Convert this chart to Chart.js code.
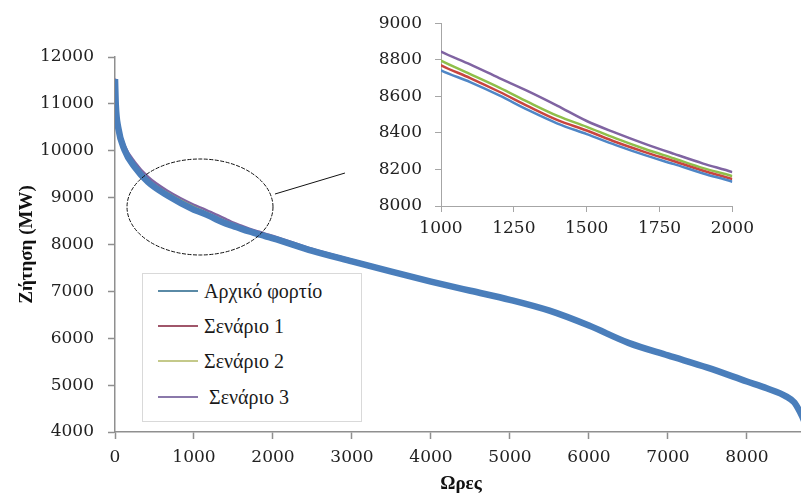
<!DOCTYPE html>
<html>
<head>
<meta charset="utf-8">
<script src="https://cdn.jsdelivr.net/npm/chart.js@4/dist/chart.umd.min.js"></script>
<style>
  html, body { margin: 0; padding: 0; background: #fff; overflow: hidden; }
  #wrap { position: relative; width: 801px; height: 494px; overflow: hidden; }
  #mainChart { position: absolute; left: 0; top: 0; }
  #zoomChart { position: absolute; left: 360px; top: 0; }
  #legend {
    position: absolute; left: 142px; top: 273px; width: 218px; height: 147px;
    border: 1px solid #d9d9d9; background: #fff;
    font-family: "Liberation Serif", "Times New Roman", serif; font-size: 20px; color: #1a1a1a;
  }
  .item { position: absolute; left: 15px; height: 24px; display: flex; align-items: center; white-space: pre; }
  .swatch { display: inline-block; width: 40px; height: 2px; margin-right: 6px; }
</style>
</head>
<body>
<div id="wrap">
  <canvas id="mainChart" width="810" height="494"></canvas>
  <canvas id="zoomChart" width="400" height="245"></canvas>
  <div id="legend"></div>
</div>
<script>
// Hours of the year, sorted load duration curve
const hours = [0, 10, 40, 120, 250, 420, 670, 1000, 1100, 1200, 1300, 1400, 1500, 1600, 1700, 1800, 1900, 2000,
  2500, 3000, 3500, 4000, 4500, 5000, 5500, 6000, 6500, 7000, 7500, 8000, 8250, 8500, 8600, 8670, 8720, 8760];

// Demand (MW) per scenario
const baseLoad = [11530, 10980, 10500, 10020, 9650, 9330, 9040, 8742, 8678, 8605, 8524, 8451, 8393, 8333, 8278, 8229, 8178, 8133,
  7865, 7640, 7420, 7210, 7013, 6820, 6588, 6270, 5902, 5633, 5374, 5078, 4932, 4755, 4630, 4430, 4250, 4050];
const scenario1 = [11530, 10990, 10515, 10040, 9675, 9355, 9065, 8770, 8700, 8625, 8545, 8470, 8413, 8350, 8295, 8245, 8193, 8147,
  7875, 7648, 7427, 7216, 7018, 6824, 6590, 6271, 5902, 5634, 5375, 5079, 4932, 4755, 4630, 4430, 4250, 4050];
const scenario2 = [11530, 11000, 10530, 10060, 9700, 9380, 9090, 8795, 8722, 8648, 8568, 8493, 8433, 8370, 8312, 8260, 8207, 8163,
  7888, 7657, 7434, 7222, 7022, 6827, 6592, 6272, 5903, 5634, 5375, 5079, 4932, 4755, 4630, 4430, 4250, 4050];
const scenario3 = [11540, 11030, 10580, 10120, 9760, 9440, 9140, 8845, 8775, 8700, 8627, 8548, 8465, 8400, 8340, 8285, 8232, 8185,
  7905, 7672, 7448, 7232, 7030, 6838, 6598, 6275, 5905, 5636, 5376, 5080, 4933, 4756, 4630, 4430, 4250, 4050];

// Axis ticks
const mainXTicks = [0, 1000, 2000, 3000, 4000, 5000, 6000, 7000, 8000];
const mainYTicks = [4000, 5000, 6000, 7000, 8000, 9000, 10000, 11000, 12000];
const zoomXTicks = [1000, 1250, 1500, 1750, 2000];
const zoomYTicks = [8000, 8200, 8400, 8600, 8800, 9000];

const seriesNames = ["Αρχικό φορτίο", "Σενάριο 1", "Σενάριο 2", " Σενάριο 3"];
const seriesData = [baseLoad, scenario1, scenario2, scenario3];
const mainColors = ["#4a7ebb", "#c0504d", "#9bbb59", "#8064a2"];
const zoomColors = ["#4f86c6", "#c8453f", "#8fbf4a", "#8064a2"];
const legendColors = ["#5a8aa6", "#a0566a", "#c4c98a", "#8a78aa"];

const tickFont = { family: "DejaVu Serif", size: 17 };
const titleFont = { family: "Liberation Serif", size: 19, weight: "bold", lineHeight: 1 };

function points(values) {
  return values.map((v, i) => ({ x: hours[i], y: v }));
}

function fixedTicks(list) {
  return scale => { scale.ticks = list.map(v => ({ value: v })); };
}

// Ellipse around the zoomed range plus the pointer line, in data units
const zoomMark = { cx: 1076, cy: 8800, rx: 924, ry: 1024, from: [2025, 9077], to: [2911, 9525] };

const zoomMarker = {
  id: "zoomMarker",
  afterDatasetsDraw(chart) {
    const { ctx, scales: { x, y } } = chart;
    const cx = x.getPixelForValue(zoomMark.cx);
    const cy = y.getPixelForValue(zoomMark.cy);
    const rx = x.getPixelForValue(zoomMark.cx + zoomMark.rx) - cx;
    const ry = cy - y.getPixelForValue(zoomMark.cy + zoomMark.ry);
    ctx.save();
    ctx.strokeStyle = "#111";
    ctx.lineWidth = 1;
    ctx.setLineDash([4, 1.5]);
    ctx.beginPath();
    ctx.ellipse(cx, cy, rx, ry, 0, 0, Math.PI * 2);
    ctx.stroke();
    ctx.setLineDash([]);
    ctx.beginPath();
    ctx.moveTo(x.getPixelForValue(zoomMark.from[0]), y.getPixelForValue(zoomMark.from[1]));
    ctx.lineTo(x.getPixelForValue(zoomMark.to[0]), y.getPixelForValue(zoomMark.to[1]));
    ctx.stroke();
    ctx.restore();
  }
};

// Main chart: whole year
new Chart(document.getElementById("mainChart"), {
  type: "line",
  data: {
    datasets: seriesData.map((d, i) => ({
      label: seriesNames[i],
      data: points(d),
      borderColor: mainColors[i],
      borderWidth: i === 0 ? 6.5 : 2.5,
      pointRadius: 0,
      cubicInterpolationMode: "monotone"
    }))
  },
  options: {
    responsive: false,
    animation: false,
    layout: { padding: { top: 57, right: 3, left: 0, bottom: 0 } },
    plugins: { legend: { display: false }, tooltip: { enabled: false } },
    scales: {
      x: {
        type: "linear", min: 0, max: 8760,
        afterBuildTicks: fixedTicks(mainXTicks),
        afterFit: s => { s.height = 62; },
        border: { color: "#8f8f8f", width: 1.5 },
        grid: { drawOnChartArea: false, tickLength: 7, color: "#8f8f8f", tickWidth: 1.5 },
        ticks: { autoSkip: false, padding: 8, color: "#222", font: tickFont, maxRotation: 0, callback: v => String(v) },
        title: { display: true, text: "Ωρες", color: "#111", font: titleFont, padding: 0 }
      },
      y: {
        min: 4000, max: 12000,
        afterBuildTicks: fixedTicks(mainYTicks),
        afterFit: s => { s.width = 115; },
        border: { color: "#8f8f8f", width: 1.5 },
        grid: { drawOnChartArea: false, tickLength: 7, color: "#8f8f8f", tickWidth: 1.5 },
        ticks: { autoSkip: false, padding: 14, color: "#222", font: tickFont, callback: v => String(v) },
        title: { display: true, text: "Ζήτηση (MW)", color: "#111", font: titleFont, padding: { top: 18, bottom: 0 } }
      }
    }
  },
  plugins: [zoomMarker]
});

// Inset: hours 1000-2000
new Chart(document.getElementById("zoomChart"), {
  type: "line",
  data: {
    datasets: seriesData.map((d, i) => ({
      label: seriesNames[i],
      data: points(d),
      borderColor: zoomColors[i],
      borderWidth: 2.5,
      pointRadius: 0,
      cubicInterpolationMode: "monotone"
    }))
  },
  options: {
    responsive: false,
    animation: false,
    layout: { padding: { top: 23, right: 27, left: 0, bottom: 0 } },
    plugins: { legend: { display: false }, tooltip: { enabled: false } },
    scales: {
      x: {
        type: "linear", min: 1000, max: 2000,
        afterBuildTicks: fixedTicks(zoomXTicks),
        afterFit: s => { s.height = 39; },
        border: { color: "#a6a6a6", width: 1 },
        grid: { drawOnChartArea: false, tickLength: 6, color: "#a6a6a6" },
        ticks: { autoSkip: false, padding: 6, color: "#222", font: tickFont, maxRotation: 0, callback: v => String(v) }
      },
      y: {
        min: 8000, max: 9000,
        afterBuildTicks: fixedTicks(zoomYTicks),
        afterFit: s => { s.width = 81; },
        border: { color: "#a6a6a6", width: 1 },
        grid: { drawOnChartArea: false, tickLength: 6, color: "#a6a6a6" },
        ticks: { autoSkip: false, padding: 13, color: "#222", font: tickFont, callback: v => String(v) }
      }
    }
  }
});

// Legend box
const legend = document.getElementById("legend");
const legendTops = [5, 40, 75, 111];
seriesNames.forEach((name, i) => {
  const item = document.createElement("div");
  item.className = "item";
  item.style.top = legendTops[i] + "px";
  const sw = document.createElement("span");
  sw.className = "swatch";
  sw.style.background = legendColors[i];
  item.appendChild(sw);
  item.appendChild(document.createTextNode(name));
  legend.appendChild(item);
});
</script>
</body>
</html>
